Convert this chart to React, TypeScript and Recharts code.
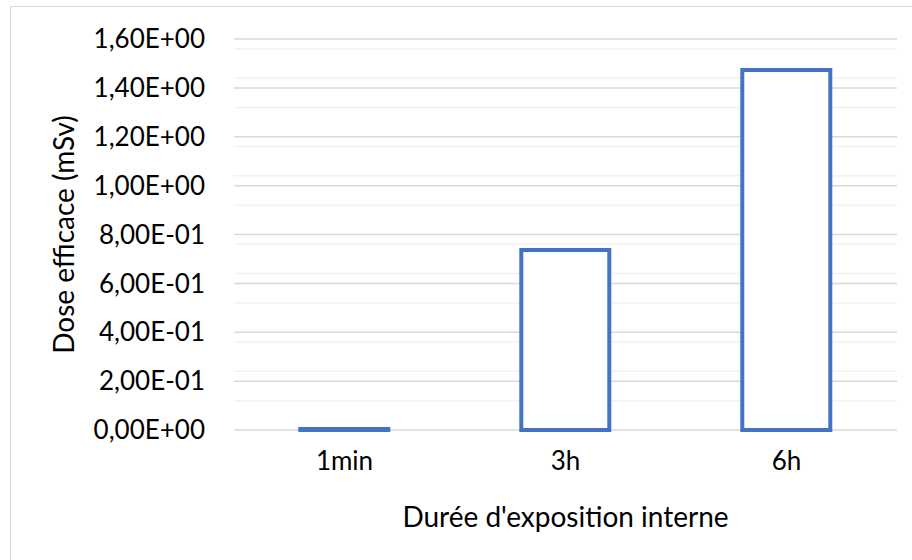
import React from "react";
import {BarChart, Bar, XAxis, YAxis, CartesianGrid} from "recharts";

const durations = ["1min", "3h", "6h"];
const doses = [0.004, 0.737, 1.473];
const majorTicks = [0, 0.2, 0.4, 0.6, 0.8, 1.0, 1.2, 1.4, 1.6];
const minorTicks = [
    0.04, 0.08, 0.12, 0.16, 0.24, 0.28, 0.32, 0.36, 0.44, 0.48, 0.52, 0.56,
    0.64, 0.68, 0.72, 0.76, 0.84, 0.88, 0.92, 0.96, 1.04, 1.08, 1.12, 1.16,
    1.24, 1.28, 1.32, 1.36, 1.44, 1.48, 1.52, 1.56,
];

const data = durations.map((d, i) => ({duration: d, dose: doses[i]}));

const font = "Lato, 'Open Sans', sans-serif";

// 1.6 -> "1,60E+00", 0.2 -> "2,00E-01"
function sci(v: number) {
    if (v === 0) return "0,00E+00";
    const exp = Math.floor(Math.log10(v) + 1e-9);
    const mant = v / Math.pow(10, exp);
    const sign = exp < 0 ? "-" : "+";
    const e = String(Math.abs(exp)).padStart(2, "0");
    return `${mant.toFixed(2).replace(".", ",")}E${sign}${e}`;
}

export default function App() {
    return (
        <div style={{position: "fixed", left: 0, top: 0, width: 912, height: 560, overflow: "hidden", background: "#fff", fontFamily: font}}>
            <div style={{position: "absolute", left: 10, top: 6, width: 1000, height: 700, border: "1px solid #d9d9d9"}}/>
            <div style={{position: "absolute", left: 0, top: 0}}>
                <BarChart width={912} height={560} data={data} barCategoryGap="30%"
                          margin={{top: 39, right: 15, bottom: 100, left: 0}}>
                    <CartesianGrid vertical={false} horizontalValues={minorTicks} stroke="#f2f2f2" strokeWidth={1.5}/>
                    <CartesianGrid vertical={false} stroke="#d9d9d9" strokeWidth={1.5}/>
                    <XAxis dataKey="duration" height={30} axisLine={false} tickLine={false}
                           tickSize={0} tickMargin={22}
                           tick={{fontSize: 26, fill: "#000", fontFamily: font}}
                           label={{value: "Durée d'exposition interne", position: "insideBottom", offset: -67,
                               fontSize: 28, fill: "#000", fontFamily: font}}/>
                    <YAxis width={234} domain={[0, 1.6]} ticks={majorTicks} tickFormatter={sci}
                           axisLine={false} tickLine={false} tickSize={0} tickMargin={29}
                           tick={{fontSize: 26, fill: "#000", fontFamily: font}}
                           label={{value: "Dose efficace (mSv)", angle: -90, position: "insideLeft", offset: 64,
                               fontSize: 28, fill: "#000", fontFamily: font, style: {textAnchor: "middle"}}}/>
                    <Bar dataKey="dose" fill="#fff" stroke="#4472c4" strokeWidth={4} isAnimationActive={false}/>
                </BarChart>
            </div>
        </div>
    );
}
